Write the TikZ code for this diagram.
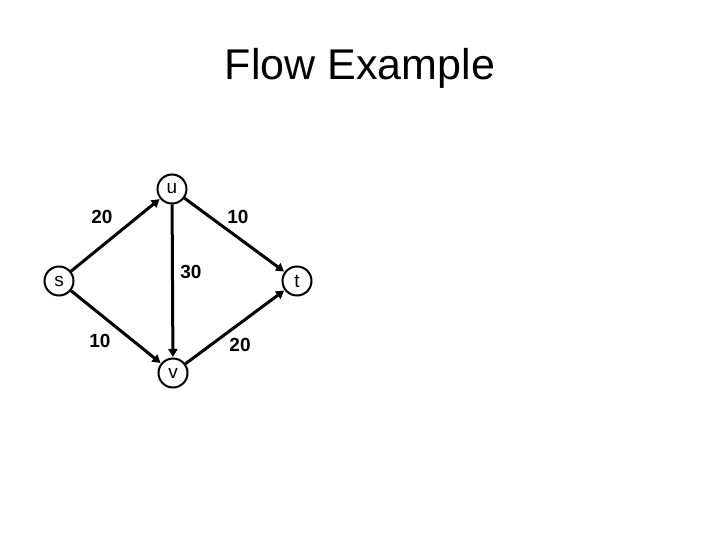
\documentclass[tikz,border=0pt]{standalone}
\usepackage{fontspec}
\setmainfont{Liberation Sans}
\usetikzlibrary{arrows.meta}
\begin{document}
\begin{tikzpicture}[x=1pt,y=-1pt,
  vtx/.style={circle,draw,line width=2pt,minimum size=29pt,inner sep=0pt,font=\fontsize{19}{21}\selectfont},
  edge/.style={line width=3pt,-{Triangle[length=8pt,width=9pt]},shorten >=0.5pt},
  wlab/.style={font=\fontsize{19}{22}\selectfont\bfseries}]
\useasboundingbox (0,0) rectangle (720,540);
\node[font=\fontsize{43}{48}\selectfont] (title) at (360,68) {Flow Example};
\node[vtx] (u) at (172,189) {u};
\node[vtx] (s) at (59,281) {s};
\node[vtx] (t) at (297,281) {t};
\node[vtx] (v) at (173,373) {v};
\draw[edge] (s) -- (u);
\draw[edge] (u) -- (t);
\draw[edge] (u) -- (v);
\draw[edge] (s) -- (v);
\draw[edge] (v) -- (t);
\node[wlab] (l1) at (102,217) {20};
\node[wlab] (l2) at (238,217) {10};
\node[wlab] (l3) at (191,272) {30};
\node[wlab] (l4) at (100,341) {10};
\node[wlab] (l5) at (240,345) {20};
\end{tikzpicture}
\end{document}
